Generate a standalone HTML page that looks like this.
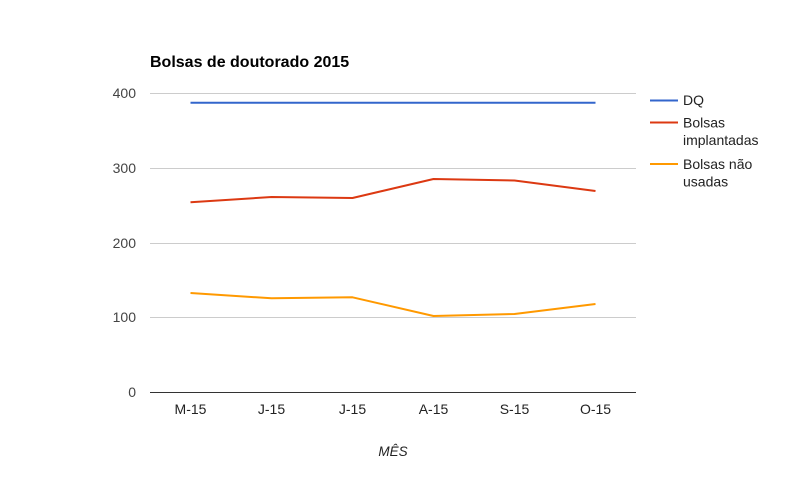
<!DOCTYPE html>
<html><head><meta charset="utf-8"><style>
html,body{margin:0;padding:0;background:#fff;}
svg{display:block;}
text{font-family:"Liberation Sans",Arial,sans-serif;}
</style></head><body>
<svg width="786" height="486" viewBox="0 0 786 486" xmlns="http://www.w3.org/2000/svg">
<rect width="786" height="486" fill="#fff"/>
<text x="150" y="67" font-size="16" font-weight="bold" fill="#000">Bolsas de doutorado 2015</text>
<g stroke="#cccccc" stroke-width="1" shape-rendering="crispEdges">
<line x1="150" y1="93.5" x2="636" y2="93.5"/>
<line x1="150" y1="168.5" x2="636" y2="168.5"/>
<line x1="150" y1="243.5" x2="636" y2="243.5"/>
<line x1="150" y1="317.5" x2="636" y2="317.5"/>
</g>
<line x1="150" y1="392.5" x2="636" y2="392.5" stroke="#333" stroke-width="1" shape-rendering="crispEdges"/>
<g font-size="14" fill="#444" text-anchor="end">
<text x="136" y="98">400</text>
<text x="136" y="173">300</text>
<text x="136" y="248">200</text>
<text x="136" y="322">100</text>
<text x="136" y="397">0</text>
</g>
<g font-size="14" fill="#222" text-anchor="middle">
<text x="190.5" y="414">M-15</text>
<text x="271.5" y="414">J-15</text>
<text x="352.5" y="414">J-15</text>
<text x="433.5" y="414">A-15</text>
<text x="514.5" y="414">S-15</text>
<text x="595.5" y="414">O-15</text>
</g>
<text x="393" y="456" font-size="13.5" font-style="italic" fill="#222" text-anchor="middle">MÊS</text>
<g fill="none" stroke-width="2" stroke-linejoin="round">
<polyline stroke="#3366cc" points="190.5,102.7 271.5,102.7 352.5,102.7 433.5,102.7 514.5,102.7 595.5,102.7"/>
<polyline stroke="#dc3912" points="190.5,202.3 271.5,197 352.5,198 433.5,179 514.5,180.5 595.5,191"/>
<polyline stroke="#ff9900" points="190.5,293 271.5,298.3 352.5,297.3 433.5,316 514.5,314 595.5,304"/>
</g>
<g stroke-width="2">
<line x1="650" y1="100.5" x2="678" y2="100.5" stroke="#3366cc"/>
<line x1="650" y1="122.5" x2="678" y2="122.5" stroke="#dc3912"/>
<line x1="650" y1="164" x2="678" y2="164" stroke="#ff9900"/>
</g>
<g font-size="14" fill="#222">
<text x="683" y="105">DQ</text>
<text x="683" y="127.5">Bolsas</text>
<text x="683" y="145">implantadas</text>
<text x="683" y="169">Bolsas não</text>
<text x="683" y="186.5">usadas</text>
</g>
</svg>
</body></html>
